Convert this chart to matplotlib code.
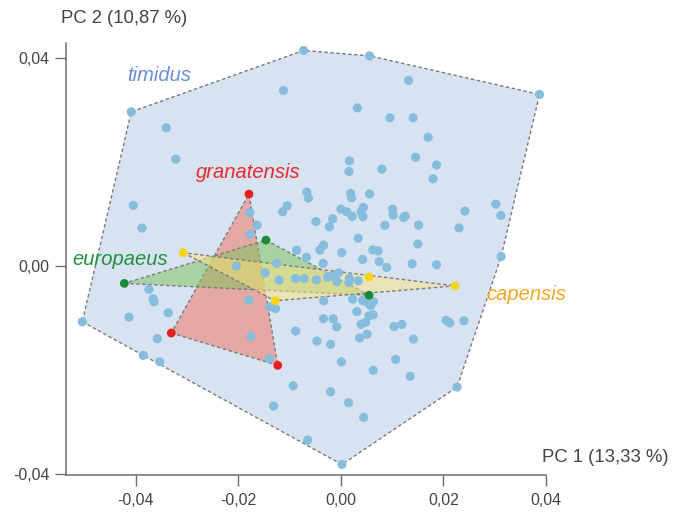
import numpy as np
import matplotlib
matplotlib.use("Agg")
from matplotlib import pyplot as plt
from matplotlib.ticker import FuncFormatter, FixedLocator

plt.rcParams["font.family"] = ["Liberation Sans", "DejaVu Sans"]

# PCA scores (PC1, PC2)
timidus_x = [
    -0.00728, 0.00560, 0.03877, -0.04092, -0.01122, -0.03409, -0.03225, -0.04053,
    -0.03883, -0.00667, -0.00634, -0.01048, -0.01138, -0.01776, -0.01635, -0.01770,
    -0.00488, -0.00160, -0.00224, 0.00000, -0.00864, -0.00410, -0.00338, 0.00322,
    0.01321, 0.00956, 0.01409, 0.01703, 0.00166, 0.00156, 0.00800, 0.01458,
    0.01867, 0.01799, 0.00189, 0.00209, 0.00560, 0.00113, 0.00439, 0.00396,
    0.00429, 0.00220, 0.01009, 0.01020, 0.01255, 0.01225, 0.01516, 0.00859,
    0.00338, 0.01502, 0.00624, 0.00726, 0.02420, 0.02306, 0.03024, 0.03122,
    0.03128, 0.00016, -0.00673, -0.00347, -0.02039, -0.01255, -0.01479, -0.01206,
    -0.00888, -0.00716, -0.00478, -0.00260, -0.00199, -0.00078, -0.00043, -0.01795,
    -0.01385, -0.01278, -0.00336, -0.00341, -0.00152, -0.00082, -0.00882, -0.00468,
    -0.00201, -0.01756, -0.01399, -0.00931, -0.00201, 0.00010, -0.01313, -0.00650,
    0.00020, -0.03746, -0.03668, -0.03649, -0.03370, -0.04137, -0.05048, -0.03584,
    -0.03858, -0.03538, 0.00423, 0.00747, 0.00894, 0.01391, 0.01867, 0.00166,
    0.00156, 0.00338, 0.00228, 0.00423, 0.00634, 0.00580, 0.00507, 0.00312,
    0.00552, 0.00628, 0.00394, 0.00482, 0.00365, 0.00511, 0.01038, 0.01190,
    0.01415, 0.02053, 0.02123, 0.02400, 0.01069, 0.00630, 0.01352, 0.02267,
    0.00150, 0.00443,
]
timidus_y = [
    0.04148, 0.04044, 0.03302, 0.02967, 0.03379, 0.02660, 0.02058, 0.01167,
    0.00731, 0.01423, 0.01308, 0.01160, 0.01044, 0.01029, 0.00788, 0.00612,
    0.00856, 0.00910, 0.00756, 0.01096, 0.00304, 0.00308, 0.00404, 0.03044,
    0.03571, 0.02852, 0.02852, 0.02479, 0.02025, 0.01821, 0.01865, 0.02094,
    0.01946, 0.01679, 0.01398, 0.01313, 0.01388, 0.01044, 0.01129, 0.01042,
    0.00952, 0.00958, 0.01096, 0.00981, 0.00962, 0.00933, 0.00788, 0.00785,
    0.00535, 0.00425, 0.00312, 0.00292, 0.01058, 0.00735, 0.01192, 0.00975,
    0.00183, 0.00258, 0.00169, 0.00052, 0.00000, 0.00052, -0.00129, -0.00273,
    -0.00240, -0.00240, -0.00263, -0.00212, -0.00192, -0.00298, -0.00129, -0.00654,
    -0.00783, -0.00817, -0.00669, -0.01013, -0.01015, -0.01167, -0.01250, -0.01442,
    -0.01504, -0.01356, -0.01779, -0.02304, -0.02419, -0.01842, -0.02692, -0.03346,
    -0.03817, -0.00448, -0.00629, -0.00687, -0.00898, -0.00981, -0.01071, -0.01398,
    -0.01717, -0.01840, 0.00129, 0.00087, -0.00025, 0.00044, 0.00025, -0.00235,
    -0.00313, -0.00283, -0.00635, -0.00660, -0.00683, -0.00760, -0.00692, -0.00875,
    -0.00956, -0.00938, -0.01121, -0.01083, -0.01385, -0.01312, -0.01163, -0.01121,
    -0.01404, -0.01044, -0.01092, -0.01052, -0.01794, -0.02004, -0.02119, -0.02327,
    -0.02629, -0.02910,
]
granatensis_x = [-0.01795, -0.03311, -0.01233]
granatensis_y = [0.01385, -0.01288, -0.01910]
europaeus_x = [-0.04228, -0.01463, 0.00550]
europaeus_y = [-0.00333, 0.00500, -0.00560]
capensis_x = [-0.03077, -0.01282, 0.00550, 0.02228]
capensis_y = [0.00256, -0.00667, -0.00208, -0.00381]

ticks = [-0.04, -0.02, 0.00, 0.02, 0.04]


def convex_hull(xs, ys):
    pts = sorted(set(zip(xs, ys)))
    if len(pts) < 3:
        return pts

    def cross(o, a, b):
        return (a[0] - o[0]) * (b[1] - o[1]) - (a[1] - o[1]) * (b[0] - o[0])

    lower, upper = [], []
    for p in pts:
        while len(lower) >= 2 and cross(lower[-2], lower[-1], p) <= 0:
            lower.pop()
        lower.append(p)
    for p in reversed(pts):
        while len(upper) >= 2 and cross(upper[-2], upper[-1], p) <= 0:
            upper.pop()
        upper.append(p)
    return lower[:-1] + upper[:-1]


def draw_hull(ax, xs, ys, fill, alpha, z):
    hull = np.array(convex_hull(xs, ys))
    ax.fill(hull[:, 0], hull[:, 1], facecolor=fill, alpha=alpha,
            edgecolor="none", zorder=z)
    closed = np.vstack([hull, hull[:1]])
    ax.plot(closed[:, 0], closed[:, 1], color="#7a7a7a",
            linestyle=(0, (2.5, 1.8)), linewidth=1.0, zorder=z + 0.5)


fig = plt.figure(figsize=(6.84, 5.13), dpi=100)
ax = fig.add_axes([0.0965, 0.074, 0.7015, 0.842])

draw_hull(ax, timidus_x, timidus_y, "#d8e3f2", 1.0, 1)
draw_hull(ax, granatensis_x, granatensis_y, "#f17157", 0.5, 2)
draw_hull(ax, europaeus_x, europaeus_y, "#7bc357", 0.5, 3)
draw_hull(ax, capensis_x, capensis_y, "#ffe37f", 0.5, 4)

ax.scatter(timidus_x, timidus_y, s=44, color="#86bddc", edgecolors="none", zorder=6)
ax.scatter(granatensis_x, granatensis_y, s=40, color="#e41f1f", edgecolors="none", zorder=7)
ax.scatter(europaeus_x, europaeus_y, s=40, color="#1b8a38", edgecolors="none", zorder=7)
ax.scatter(capensis_x, capensis_y, s=40, color="#f8d214", edgecolors="none", zorder=7)

lbl = dict(fontsize=14.5, style="italic")
ax.text(-0.0355, 0.0357, "timidus", color="#6a8ed6", ha="center", va="baseline", **lbl)
ax.text(-0.0180, 0.0170, "granatensis", color="#e8282a", ha="center", va="baseline", **lbl)
ax.text(-0.0430, 0.0003, "europaeus", color="#1f8f3a", ha="center", va="baseline", **lbl)
ax.text(0.0362, -0.0065, "capensis", color="#f6a623", ha="center", va="baseline", **lbl)

ax.set_xlim(-0.05366, 0.0400)
ax.set_ylim(-0.0402, 0.0429)
ax.xaxis.set_major_locator(FixedLocator(ticks))
ax.yaxis.set_major_locator(FixedLocator([-0.04, 0.00, 0.04]))
fmt = FuncFormatter(lambda v, pos: f"{abs(v):.2f}".replace(".", ",") if abs(v) < 1e-9
                    else f"{v:.2f}".replace(".", ","))
ax.xaxis.set_major_formatter(fmt)
ax.yaxis.set_major_formatter(fmt)

for side in ("top", "right"):
    ax.spines[side].set_visible(False)
for side in ("left", "bottom"):
    ax.spines[side].set_color("#6e6e6e")
    ax.spines[side].set_linewidth(1.1)
ax.tick_params(direction="out", length=8, width=1.0, color="#6e6e6e",
               labelsize=11.5, labelcolor="#444444")
ax.tick_params(axis="x", pad=5)
ax.tick_params(axis="y", pad=4)

fig.text(123.7 / 684, 1 - 19 / 513, "PC 2 (10,87 %)", ha="center", va="center",
         fontsize=13.3, color="#444444")
fig.text(605 / 684, 1 - 458 / 513, "PC 1 (13,33 %)", ha="center", va="center",
         fontsize=13.3, color="#444444")

fig.savefig("out.png", dpi=100)
